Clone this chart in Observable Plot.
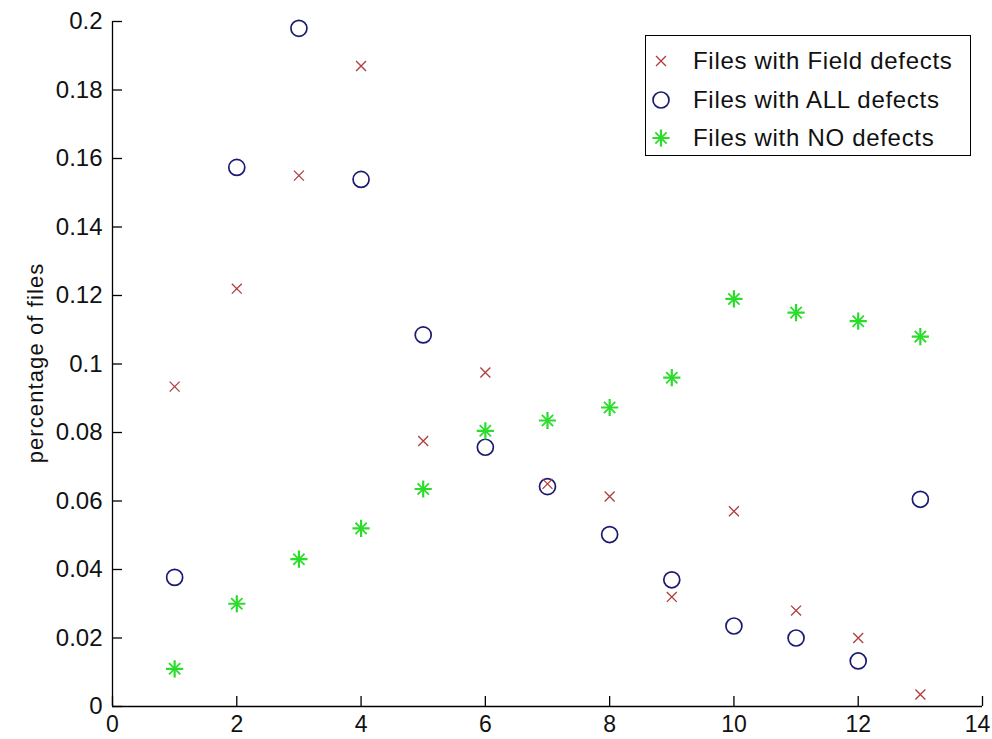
<!DOCTYPE html>
<html>
<head>
<meta charset="utf-8">
<script src="https://cdn.jsdelivr.net/npm/d3@7"></script>
<script src="https://cdn.jsdelivr.net/npm/@observablehq/plot@0.6"></script>
<style>
  html, body { margin: 0; padding: 0; background: #fff; }
  #wrap { position: relative; width: 992px; height: 739px; overflow: hidden; font-family: "Liberation Sans", Arial, sans-serif; }
  #legend { position: absolute; left: 645px; top: 35px; width: 326px; height: 121px; border: 1px solid #000; background: #fff; box-sizing: border-box; }
  .row { position: absolute; left: 0; height: 30px; display: flex; align-items: center; }
  .row svg { width: 30px; height: 30px; }
  .row span { font-size: 24px; letter-spacing: 0.7px; color: #111; margin-left: 17px; white-space: nowrap; }
  #ylabel { position: absolute; left: 36px; top: 363px; transform: translate(-50%, -50%) rotate(-90deg); font-size: 22px; letter-spacing: 1.1px; color: #111; white-space: nowrap; line-height: 1; }
</style>
</head>
<body>
<div id="wrap"></div>
<script>
const xs = [1, 2, 3, 4, 5, 6, 7, 8, 9, 10, 11, 12, 13];
const fieldDefects = [0.0934, 0.122, 0.155, 0.187, 0.0775, 0.0975, 0.065, 0.0613, 0.032, 0.057, 0.028, 0.020, 0.0035];
const allDefects   = [0.0377, 0.1574, 0.198, 0.1539, 0.1085, 0.0757, 0.0642, 0.0502, 0.037, 0.0235, 0.020, 0.0133, 0.0605];
const noDefects    = [0.011, 0.030, 0.043, 0.052, 0.0635, 0.0805, 0.0835, 0.0873, 0.096, 0.119, 0.115, 0.1125, 0.108];
const seriesNames = ["Files with Field defects", "Files with ALL defects", "Files with NO defects"];
const xTicks = [0, 2, 4, 6, 8, 10, 12, 14];
const yTicks = [0, 0.02, 0.04, 0.06, 0.08, 0.1, 0.12, 0.14, 0.16, 0.18, 0.2];
const yTickLabels = ["0", "0.02", "0.04", "0.06", "0.08", "0.1", "0.12", "0.14", "0.16", "0.18", "0.2"];
const yLabel = "percentage of files";

const colors = { field: "#b03c3c", all: "#1a1a72", none: "#2bdc2b" };

const field = xs.map((x, i) => ({ x, y: fieldDefects[i] }));
const all = xs.map((x, i) => ({ x, y: allDefects[i] }));
const none = xs.map((x, i) => ({ x, y: noDefects[i] }));

const W = 992, H = 739;
const mL = 112, mR = 10, mT = 21, mB = 33;
const innerW = W - mL - mR, innerH = H - mT - mB;
const tickLen = 10;
const lastX = xTicks[xTicks.length - 1];

const chart = Plot.plot({
  width: W, height: H,
  marginLeft: mL, marginRight: mR, marginTop: mT, marginBottom: mB,
  style: { fontFamily: "'Liberation Sans', Arial, sans-serif", fontSize: "24px", color: "#111", background: "#fff", overflow: "visible" },
  x: { domain: [0, 14], label: null },
  y: { domain: [0, 0.2], label: null },
  marks: [
    Plot.axisX(xTicks.filter(d => d !== lastX), { tickSize: 0, tickPadding: 9, fontSize: 23, tickFormat: d => String(d), label: null }),
    Plot.axisX([lastX], { tickSize: 0, tickPadding: 9, fontSize: 23, tickFormat: d => String(d), label: null, dx: -5 }),
    Plot.axisY(yTicks, { tickSize: 0, tickPadding: 10, fontSize: 24, tickFormat: d => yTickLabels[yTicks.indexOf(d)], label: null }),
    Plot.ruleY([0], { stroke: "#000", strokeWidth: 1.3 }),
    Plot.ruleX([0], { stroke: "#000", strokeWidth: 1.3 }),
    Plot.tickX(xTicks, { x: d => d, insetTop: innerH - tickLen, stroke: "#000", strokeWidth: 1.3 }),
    Plot.tickY(yTicks, { y: d => d, insetRight: innerW - tickLen, stroke: "#000", strokeWidth: 1.3 }),
    Plot.dot(all, { x: "x", y: "y", symbol: "circle", r: 8, stroke: colors.all, strokeWidth: 1.7, fill: "none" }),
    Plot.dot(field, { x: "x", y: "y", symbol: "times", r: 4.6, stroke: colors.field, strokeWidth: 1.3 }),
    Plot.dot(none, { x: "x", y: "y", symbol: "plus", r: 5.6, stroke: colors.none, strokeWidth: 2.2 }),
    Plot.dot(none, { x: "x", y: "y", symbol: "times", r: 5.2, stroke: colors.none, strokeWidth: 1.8 })
  ]
});

const wrap = document.getElementById("wrap");
wrap.appendChild(chart);

// Y axis label
const yl = document.createElement("div");
yl.id = "ylabel";
yl.textContent = yLabel;
wrap.appendChild(yl);

// Legend
const legend = document.createElement("div");
legend.id = "legend";
wrap.appendChild(legend);
const rowCenters = [25, 64, 102];
const symSize = r => r * r * Math.PI;
const markers = [
  [{ type: d3.symbolTimes, r: 4.6, stroke: colors.field, sw: 1.3 }],
  [{ type: d3.symbolCircle, r: 8, stroke: colors.all, sw: 1.7 }],
  [{ type: d3.symbolPlus, r: 5.6, stroke: colors.none, sw: 2.2 }, { type: d3.symbolTimes, r: 5.2, stroke: colors.none, sw: 1.8 }]
];
seriesNames.forEach((name, i) => {
  const row = document.createElement("div");
  row.className = "row";
  row.style.top = (rowCenters[i] - 15) + "px";
  const svg = d3.create("svg").attr("width", 30).attr("height", 30);
  markers[i].forEach(m => {
    svg.append("path")
      .attr("transform", "translate(15,15)")
      .attr("d", d3.symbol(m.type, symSize(m.r))())
      .attr("fill", "none")
      .attr("stroke", m.stroke)
      .attr("stroke-width", m.sw);
  });
  row.appendChild(svg.node());
  const span = document.createElement("span");
  span.textContent = name;
  row.appendChild(span);
  legend.appendChild(row);
});
</script>
</body>
</html>
